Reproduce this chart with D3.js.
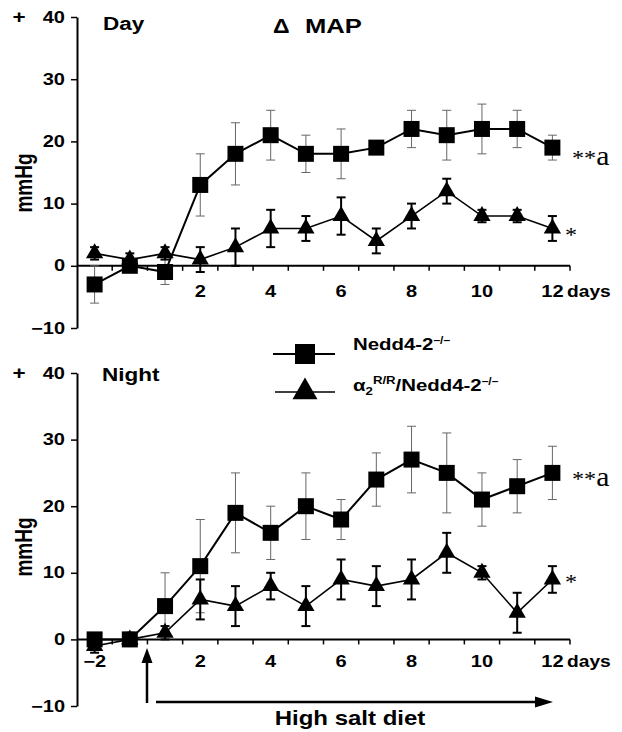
<!DOCTYPE html>
<html>
<head>
<meta charset="utf-8">
<script src="https://cdn.jsdelivr.net/npm/d3@7"></script>
<style>
  body { margin: 0; background: #fff; }
  text { font-family: "Liberation Sans", Arial, sans-serif; font-weight: bold; fill: #000; }
</style>
</head>
<body>
<script>
'use strict';

// days on the x axis (equally spaced, one band each)
var days = ['-2', '0', '1', '2', '3', '4', '5', '6', '7', '8', '9', '10', '11', '12'];
var yTicks = [-10, 0, 10, 20, 30, 40];
var dayLabels = ['2', '4', '6', '8', '10', '12'];
var nightLabels = ['-2', '2', '4', '6', '8', '10', '12'];

// Day panel
var dayNedd      = [-3, 0, -1, 13, 18, 21, 18, 18, 19, 22, 21, 22, 22, 19];
var dayNeddErr   = [3, 1, 2, 5, 5, 4, 3, 4, 1, 3, 4, 4, 3, 2];
var dayAlpha     = [2, 1, 2, 1, 3, 6, 6, 8, 4, 8, 12, 8, 8, 6];
var dayAlphaErr  = [1, 1, 1, 2, 3, 3, 2, 3, 2, 2, 2, 1, 1, 2];

// Night panel
var nightNedd     = [0, 0, 5, 11, 19, 16, 20, 18, 24, 27, 25, 21, 23, 25];
var nightNeddErr  = [1, 1, 5, 7, 6, 4, 5, 3, 4, 5, 6, 4, 4, 4];
var nightAlpha    = [-1, 0, 1, 6, 5, 8, 5, 9, 8, 9, 13, 10, 4, 9];
var nightAlphaErr = [1, 1, 1, 3, 3, 2, 3, 3, 3, 3, 3, 1, 3, 2];

var SX = 1.25; // the original lettering is a bit wide

var svg = d3.select('body').append('svg')
  .attr('width', 622)
  .attr('height', 732);

var xScale = d3.scaleBand().domain(days).range([77, 570]);
var bw = xScale.bandwidth();
function cx(d) { return xScale(d) + bw / 2; }

function fmt(d) {
  var s = String(d);
  return s.charAt(0) == '-' ? '\u2212' + s.slice(1) : s;
}

// text with a horizontal stretch
function label(g, x, y, s, size, anchor, sx) {
  return g.append('text')
    .attr('transform', 'translate(' + x + ',' + y + ') scale(' + (sx || SX) + ',1)')
    .attr('text-anchor', anchor || 'start')
    .style('font-size', size + 'px')
    .text(s);
}

function rows(vals, errs) {
  return days.map(function(d, i) { return {day: d, v: vals[i], e: errs[i]}; });
}

function panel(yScale, nedd, neddErr, alpha, alphaErr, xLabels, padX) {
  var g = svg.append('g');

  // y axis
  var yAxis = g.append('g')
    .attr('transform', 'translate(77,0)')
    .call(d3.axisLeft(yScale).tickValues(yTicks).tickSize(6).tickSizeOuter(0).tickPadding(6).tickFormat(fmt));
  yAxis.select('.domain').attr('stroke-width', 2);
  yAxis.selectAll('.tick line').attr('stroke-width', 1.5);
  yAxis.selectAll('.tick text')
    .attr('x', -12 / SX)
    .attr('transform', 'scale(' + SX + ',1)')
    .style('font-size', '16px')
    .style('font-family', '"Liberation Sans", Arial, sans-serif');

  // x axis on the zero line, ticks between the days
  var y0 = yScale(0);
  var xg = g.append('g').attr('transform', 'translate(0,' + y0 + ')');
  xg.append('line').attr('x1', 77).attr('x2', 570).attr('stroke', '#000').attr('stroke-width', 2);
  xg.selectAll('.bound').data(days).enter().append('line')
    .attr('class', 'bound')
    .attr('x1', function(d) { return xScale(d) + bw; })
    .attr('x2', function(d) { return xScale(d) + bw; })
    .attr('y1', 0).attr('y2', 5)
    .attr('stroke', '#000').attr('stroke-width', 1.5);
  xg.selectAll('.xl').data(xLabels).enter().append('text')
    .attr('class', 'xl')
    .attr('transform', function(d) { return 'translate(' + cx(d) + ',' + (padX + 12) + ') scale(' + SX + ',1)'; })
    .attr('text-anchor', 'middle')
    .style('font-size', '16px')
    .text(fmt);
  label(xg, 567, padX + 12, 'days', 16, 'start', 1.2);

  // error bars
  function bars(data, color, w) {
    var eg = g.append('g').attr('stroke', color).attr('stroke-width', w);
    data.forEach(function(d) {
      var x = cx(d.day);
      eg.append('line').attr('x1', x).attr('x2', x).attr('y1', yScale(d.v - d.e)).attr('y2', yScale(d.v + d.e));
      [d.v - d.e, d.v + d.e].forEach(function(v) {
        eg.append('line').attr('x1', x - 4.5).attr('x2', x + 4.5).attr('y1', yScale(v)).attr('y2', yScale(v));
      });
    });
  }

  var line = d3.line()
    .x(function(d) { return cx(d.day); })
    .y(function(d) { return yScale(d.v); });

  var a = rows(alpha, alphaErr);
  var n = rows(nedd, neddErr);

  bars(n, '#666', 1);
  bars(a, '#000', 2);

  g.append('path').datum(a).attr('d', line).attr('fill', 'none').attr('stroke', '#000').attr('stroke-width', 1.6);
  g.append('path').datum(n).attr('d', line).attr('fill', 'none').attr('stroke', '#000').attr('stroke-width', 2);

  g.selectAll('.tri').data(a).enter().append('path')
    .attr('class', 'tri')
    .attr('transform', function(d) { return 'translate(' + cx(d.day) + ',' + yScale(d.v) + ')'; })
    .attr('d', d3.symbol().type(d3.symbolTriangle).size(130));
  g.selectAll('.sq').data(n).enter().append('path')
    .attr('class', 'sq')
    .attr('transform', function(d) { return 'translate(' + cx(d.day) + ',' + yScale(d.v) + ')'; })
    .attr('d', d3.symbol().type(d3.symbolSquare).size(256));

  return g;
}

var yDay = d3.scaleLinear().domain([-10, 40]).range([328, 17]);
var yNight = d3.scaleLinear().domain([-10, 40]).range([706, 373]);

var dayPanel = panel(yDay, dayNedd, dayNeddErr, dayAlpha, dayAlphaErr, dayLabels, 19);
var nightPanel = panel(yNight, nightNedd, nightNeddErr, nightAlpha, nightAlphaErr, nightLabels, 16);

// titles and labels
label(svg, 19, 23, '+', 18, 'middle');
label(svg, 19, 379, '+', 18, 'middle');
label(svg, 103, 30, 'Day', 18, 'start');
label(svg, 102, 381, 'Night', 18, 'start');
label(svg, 273, 33, '\u0394', 21, 'start', 1.1);
label(svg, 305, 33, 'MAP', 21, 'start', 1.22);

svg.append('text')
  .attr('transform', 'translate(32,183) rotate(-90) scale(1,' + SX + ')')
  .attr('text-anchor', 'middle')
  .style('font-size', '19px')
  .text('mmHg');
svg.append('text')
  .attr('transform', 'translate(32,547) rotate(-90) scale(1,' + SX + ')')
  .attr('text-anchor', 'middle')
  .style('font-size', '19px')
  .text('mmHg');

// significance marks
function serif(x, y, s, big) {
  var t = label(svg, x, y, s, 22, 'start', 1.1)
    .style('font-family', '"Liberation Serif", "Times New Roman", serif')
    .style('font-weight', 'normal');
  if (big) t.append('tspan').style('font-size', '27px').text(big);
}
serif(572, 165, '**', 'a');
serif(565, 242, '*');
serif(572, 486, '**', 'a');
serif(565, 589, '*');

// legend
var legend = svg.append('g');
[{y: 354, type: d3.symbolSquare, size: 400, x1: 273, w: 2},
 {y: 392, type: d3.symbolTriangle, size: 270, x1: 275, w: 1.6}].forEach(function(d) {
  legend.append('line').attr('x1', d.x1).attr('x2', 335).attr('y1', d.y).attr('y2', d.y)
    .attr('stroke', '#000').attr('stroke-width', d.w);
  legend.append('path').attr('transform', 'translate(305,' + d.y + ')')
    .attr('d', d3.symbol().type(d.type).size(d.size));
});
var t1 = label(legend, 353, 350, 'Nedd4-2', 17, 'start', 1.2);
t1.append('tspan').attr('dy', -6).style('font-size', '10px').text('\u2013/\u2013');
var t2 = label(legend, 353, 391, '\u03b1', 17, 'start', 1.2);
t2.append('tspan').attr('dy', 4).style('font-size', '11px').text('2');
t2.append('tspan').attr('dy', -11).style('font-size', '11px').text('R/R');
t2.append('tspan').attr('dy', 7).text('/Nedd4-2');
t2.append('tspan').attr('dy', -6).style('font-size', '10px').text('\u2013/\u2013');

// high salt diet arrows
var ar = svg.append('g').attr('stroke', '#000').attr('stroke-width', 2.5);
ar.append('line').attr('x1', 147).attr('x2', 147).attr('y1', 703).attr('y2', 660);
ar.append('line').attr('x1', 156).attr('x2', 538).attr('y1', 702).attr('y2', 702);
svg.append('path').attr('d', 'M147,648 L141.5,663 L152.5,663 Z');
svg.append('path').attr('d', 'M553,702 L535,696.5 L535,707.5 Z');
label(svg, 350, 725, 'High salt diet', 20, 'middle', 1.2);
</script>
</body>
</html>
